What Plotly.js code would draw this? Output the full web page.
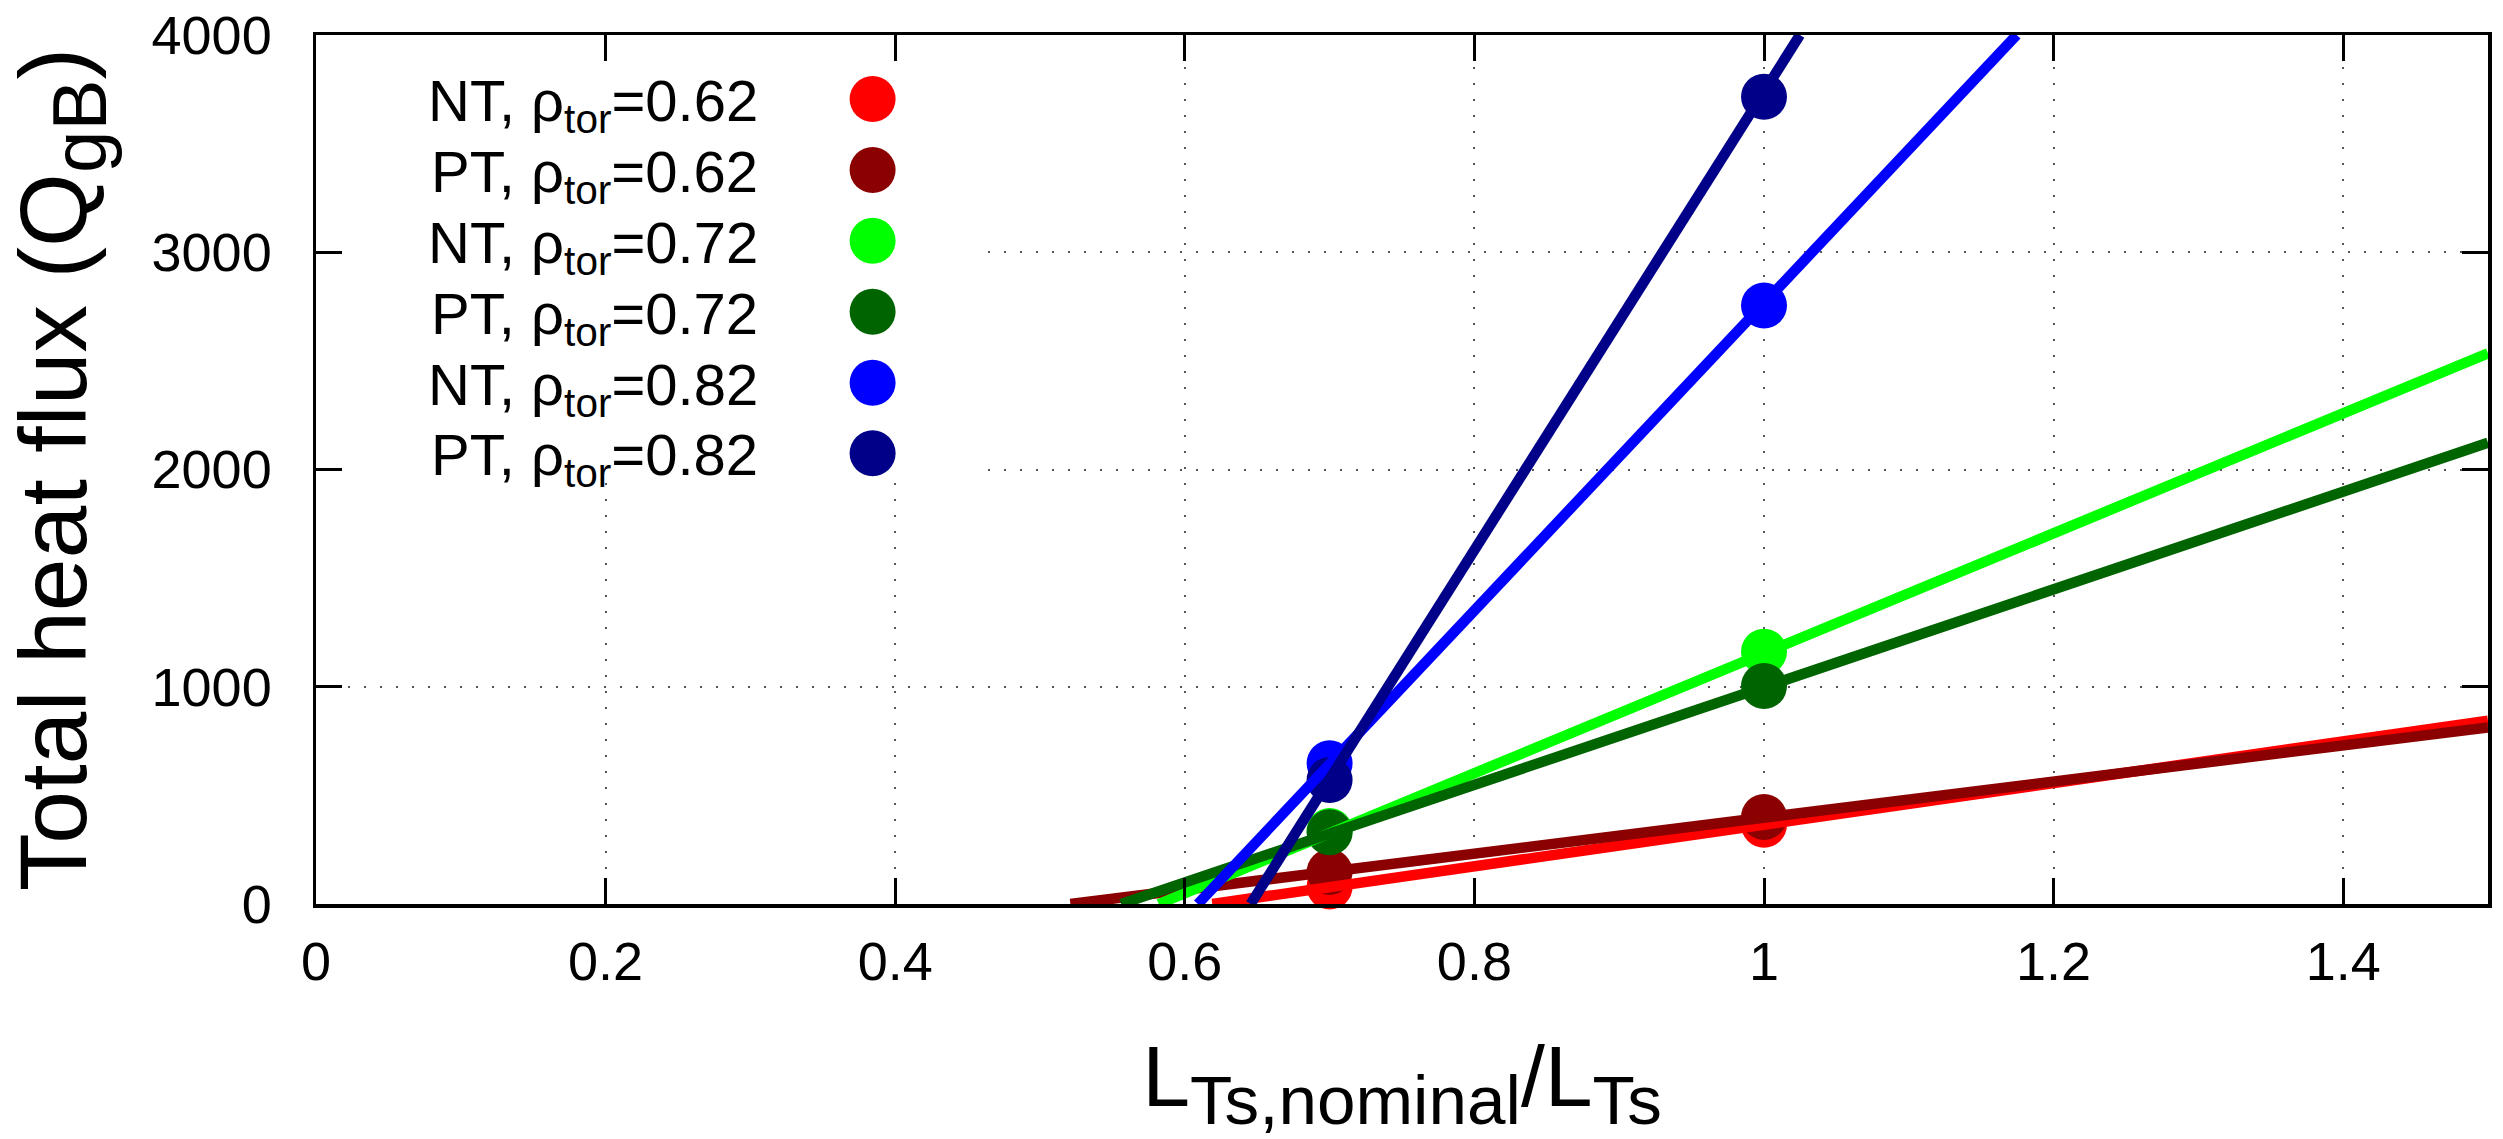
<!DOCTYPE html>
<html>
<head>
<meta charset="utf-8">
<script src="https://cdn.plot.ly/plotly-3.0.1.min.js"></script>
<style>
html, body { margin: 0; padding: 0; background: #ffffff; }
#chart { width: 2503px; height: 1139px; }
</style>
</head>
<body>
<div id="chart"></div>
<script>
// ---- data ----
const xPoints = [0.7, 1.0];

const seriesNames  = ['NT, ρtor=0.62', 'PT, ρtor=0.62', 'NT, ρtor=0.72', 'PT, ρtor=0.72', 'NT, ρtor=0.82', 'PT, ρtor=0.82'];
const seriesLabels = ['NT, ρ<sub>tor</sub>=0.62', 'PT, ρ<sub>tor</sub>=0.62', 'NT, ρ<sub>tor</sub>=0.72',
                      'PT, ρ<sub>tor</sub>=0.72', 'NT, ρ<sub>tor</sub>=0.82', 'PT, ρ<sub>tor</sub>=0.82'];
const seriesColors = ['#ff0000', '#8b0000', '#00ff00', '#006400', '#0000ff', '#000088'];

// heat flux at xPoints
const fluxNT062 = [80, 365];
const fluxPT062 = [147, 400];
const fluxNT072 = [336, 1161];
const fluxPT072 = [330, 1003];
const fluxNT082 = [648, 2755];
const fluxPT082 = [571, 3716];

// linear fit lines: [x-intercept, end x] and [0, end value]
const fitXNT062 = [0.619, 1.5];    const fitYNT062 = [0, 844];
const fitXPT062 = [0.521, 1.5];    const fitYPT062 = [0, 813];
const fitXNT072 = [0.582, 1.5];    const fitYNT072 = [0, 2535];
const fitXPT072 = [0.556, 1.5];    const fitYPT072 = [0, 2123];
const fitXNT082 = [0.609, 1.1745]; const fitYNT082 = [0, 4000];
const fitXPT082 = [0.6455, 1.0248]; const fitYPT082 = [0, 4000];

const xTickVals = [0, 0.2, 0.4, 0.6, 0.8, 1, 1.2, 1.4];
const xTickText = ['0', '0.2', '0.4', '0.6', '0.8', '1', '1.2', '1.4'];
const yTickVals = [0, 1000, 2000, 3000, 4000];
const yTickText = ['0', '1000', '2000', '3000', '4000'];

// ---- build traces ----
const fluxSets = [fluxNT062, fluxPT062, fluxNT072, fluxPT072, fluxNT082, fluxPT082];
const fitXs = [fitXNT062, fitXPT062, fitXNT072, fitXPT072, fitXNT082, fitXPT082];
const fitYs = [fitYNT062, fitYPT062, fitYNT072, fitYPT072, fitYNT082, fitYPT082];

const traces = [];
fluxSets.forEach((ys, i) => {
  traces.push({
    type: 'scatter', mode: 'markers', x: xPoints, y: ys, name: seriesNames[i],
    marker: { size: 46, color: seriesColors[i], line: { width: 0 } },
    cliponaxis: false, showlegend: false, hoverinfo: 'skip'
  });
});
fitXs.forEach((xs, i) => {
  traces.push({
    type: 'scatter', mode: 'lines', x: xs, y: fitYs[i], name: seriesNames[i] + ' fit',
    line: { color: seriesColors[i], width: 10.5 },
    showlegend: false, hoverinfo: 'skip'
  });
});

// ---- legend drawn gnuplot-style (text left, symbol right) ----
const FONT = 'Liberation Sans, Arial, Helvetica, sans-serif';
const W = 2503, H = 1139;
const mL = 316, mR = 15, mT = 35, mB = 235;
const plotW = W - mL - mR, plotH = H - mT - mB;
const rowPix = [99, 170, 240.7, 311.7, 382.7, 453.3];
const keyTextRightPix = 760, keyDotPix = 872.6, keyDotR = 23;
const annotations = [];
// opaque key box (kept clear of the axis line and inward ticks)
const shapes = [
  { type: 'rect', xref: 'paper', yref: 'paper',
    x0: (345 - mL) / plotW, x1: (978 - mL) / plotW,
    y0: (mT + plotH - 482) / plotH, y1: (mT + plotH - 64) / plotH,
    fillcolor: '#ffffff', line: { width: 0 }, layer: 'above' }
];
seriesLabels.forEach((lab, i) => {
  const yc = (mT + plotH - rowPix[i]) / plotH;
  const xc = (keyDotPix - mL) / plotW;
  annotations.push({
    xref: 'paper', yref: 'paper', x: (keyTextRightPix - mL) / plotW, y: (mT + plotH - rowPix[i] - 6) / plotH,
    xanchor: 'right', yanchor: 'middle', showarrow: false, text: lab,
    font: { family: FONT, size: 58, color: '#000000' }
  });
  shapes.push({
    type: 'circle', xref: 'paper', yref: 'paper',
    x0: xc - keyDotR / plotW, x1: xc + keyDotR / plotW,
    y0: yc - keyDotR / plotH, y1: yc + keyDotR / plotH,
    fillcolor: seriesColors[i], line: { width: 0 }, layer: 'above'
  });
});

const axisCommon = {
  showline: true, linecolor: '#000000', linewidth: 3.5, mirror: 'ticks',
  ticks: 'inside', ticklen: 26, tickwidth: 3, tickcolor: '#000000',
  showgrid: true, gridcolor: '#555555', gridwidth: 2, griddash: '2px,14px',
  zeroline: false, tickfont: { family: FONT, size: 54, color: '#000000' },
  automargin: false
};

const layout = {
  width: W, height: H,
  margin: { l: mL, r: mR, t: mT, b: mB },
  paper_bgcolor: '#ffffff', plot_bgcolor: '#ffffff',
  showlegend: false,
  xaxis: Object.assign({}, axisCommon, {
    range: [0, 1.5], tickmode: 'array', tickvals: xTickVals, ticktext: xTickText,
    ticklabelstandoff: 8,
    title: { text: 'L<sub><span style="font-size:115%">Ts,nominal</span></sub>/L<sub><span style="font-size:115%">Ts</span></sub>',
             font: { family: FONT, size: 86, color: '#000000' }, standoff: 82 }
  }),
  yaxis: Object.assign({}, axisCommon, {
    range: [0, 4000], tickmode: 'array', tickvals: yTickVals, ticktext: yTickText,
    ticklabelstandoff: 30,
    title: { text: 'Total heat flux (Q<sub><span style="font-size:115%">gB</span></sub>)',
             font: { family: FONT, size: 95, color: '#000000' }, standoff: 35 }
  }),
  annotations: annotations,
  shapes: shapes
};

Plotly.newPlot('chart', traces, layout, { displayModeBar: false, staticPlot: true });
</script>
</body>
</html>
